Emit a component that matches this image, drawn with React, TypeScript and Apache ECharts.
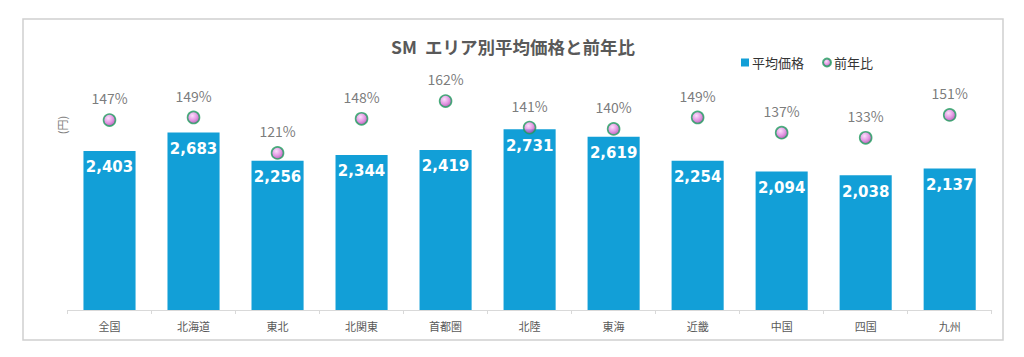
import React, { useEffect, useRef } from "react";
import * as echarts from "echarts";

const categories = ["全国", "北海道", "東北", "北関東", "首都圏", "北陸", "東海", "近畿", "中国", "四国", "九州"];
const avgPrice = [2403, 2683, 2256, 2344, 2419, 2731, 2619, 2254, 2094, 2038, 2137];
const yoyPercent = [147, 149, 121, 148, 162, 141, 140, 149, 137, 133, 151];

export default function App() {
  const ref = useRef<HTMLDivElement>(null);
  useEffect(() => {
    if (!ref.current) return;
    const chart = echarts.init(ref.current, undefined, { renderer: "svg" });
    const font = "'Noto Sans CJK JP', 'Noto Sans', sans-serif";
    chart.setOption({
      animation: false,
      backgroundColor: "#ffffff",
      title: {
        text: "SM  エリア別平均価格と前年比",
        left: 508,
        textAlign: "center",
        top: 33,
        textStyle: { fontFamily: font, fontSize: 17.5, fontWeight: "bold", color: "#595959" },
      },
      legend: {
        left: 736,
        top: 51,
        itemWidth: 8,
        itemHeight: 8,
        itemGap: 18,
        textStyle: { fontFamily: font, fontSize: 13, color: "#333333", padding: [0, 0, 0, -2] },
        data: [
          { name: "平均価格", icon: "rect" },
          { name: "前年比", icon: "circle" },
        ],
      },
      grid: { left: 67.5, right: 32.3, top: 45.3, bottom: 47, containLabel: false },
      xAxis: {
        type: "category",
        data: categories,
        axisLine: { lineStyle: { color: "#d9d9d9", width: 1 } },
        axisTick: { show: true, length: 4, lineStyle: { color: "#d9d9d9" } },
        axisLabel: { fontFamily: font, fontSize: 11, color: "#595959", margin: 10 },
      },
      yAxis: [
        { type: "value", min: 0, max: 4000, show: false },
        { type: "value", min: -3, max: 206, show: false },
      ],
      graphic: [
        {
          type: "rect",
          shape: { x: 23, y: 19, width: 980, height: 321 },
          style: { fill: "none", stroke: "#d0d0d0", lineWidth: 1.5 },
          silent: true,
        },
        {
          type: "text",
          x: 62,
          y: 125,
          rotation: Math.PI / 2,
          style: {
            text: "(円)",
            fontFamily: font,
            fontSize: 11,
            fill: "#7f7f7f",
            align: "center",
            verticalAlign: "middle",
          },
        },
      ],
      series: [
        {
          name: "平均価格",
          type: "bar",
          data: avgPrice,
          barCategoryGap: "38%",
          itemStyle: { color: "#129fd7" },
          label: {
            show: true,
            position: "insideTop",
            distance: 9,
            formatter: (p: any) => p.value.toLocaleString("en-US"),
            fontFamily: "'DejaVu Sans', Verdana, sans-serif",
            fontSize: 15,
            fontWeight: "bold",
            color: "#ffffff",
          },
        },
        {
          name: "前年比",
          type: "scatter",
          yAxisIndex: 1,
          data: yoyPercent,
          symbol: "circle",
          symbolSize: 12,
          z: 5,
          itemStyle: {
            color: {
              type: "radial",
              x: 0.4,
              y: 0.35,
              r: 0.65,
              colorStops: [
                { offset: 0, color: "#fbd8fb" },
                { offset: 0.6, color: "#dc7ddc" },
                { offset: 1, color: "#a846a8" },
              ],
            },
            borderColor: "#1f9e5e",
            borderWidth: 1.6,
          },
          label: {
            show: true,
            position: "top",
            distance: 8,
            formatter: (p: any) => p.value + "%",
            fontFamily: font,
            fontSize: 14,
            color: "#595959",
          },
        },
      ],
    });
    return () => chart.dispose();
  }, []);
  return (
    <div
      ref={ref}
      style={{ position: "fixed", left: 0, top: 0, width: 1024, height: 357 }}
    />
  );
}
